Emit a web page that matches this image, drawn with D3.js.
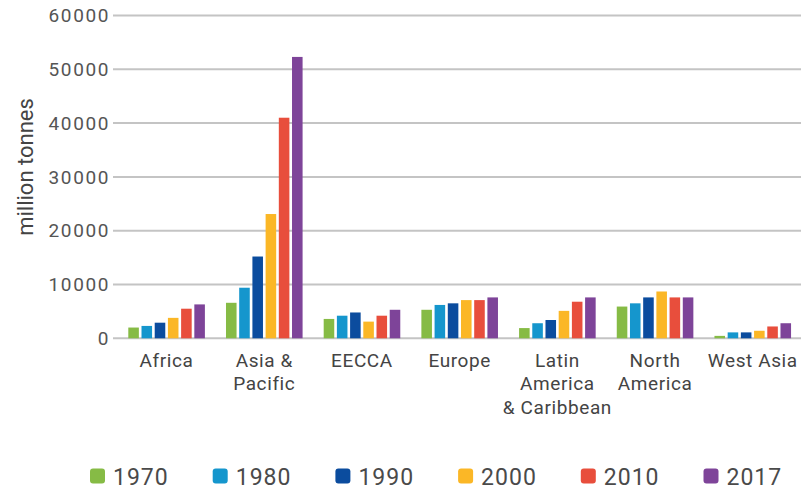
<!DOCTYPE html>
<html>
<head>
<meta charset="utf-8">
<script src="https://cdn.jsdelivr.net/npm/d3@7"></script>
<style>
  html, body { margin: 0; padding: 0; background: #ffffff; }
  svg { display: block; font-family: Roboto, "Noto Sans", sans-serif; }
</style>
</head>
<body>
<svg id="chart" width="807" height="492"></svg>
<script>
const categories = ["Africa", "Asia & Pacific", "EECCA", "Europe", "Latin America & Caribbean", "North America", "West Asia"];
const categoryLines = [["Africa"], ["Asia &", "Pacific"], ["EECCA"], ["Europe"], ["Latin", "America", "& Caribbean"], ["North", "America"], ["West Asia"]];
const years = ["1970", "1980", "1990", "2000", "2010", "2017"];
const colors = ["#86bb45", "#1596cd", "#0b4c9e", "#fbb726", "#e84e3c", "#7e4499"];

const v1970 = [2000, 6600, 3600, 5300, 1900, 5900, 450];
const v1980 = [2300, 9400, 4200, 6200, 2800, 6500, 1100];
const v1990 = [2900, 15200, 4800, 6500, 3400, 7600, 1100];
const v2000 = [3800, 23100, 3100, 7100, 5100, 8700, 1400];
const v2010 = [5500, 41000, 4200, 7100, 6800, 7600, 2200];
const v2017 = [6300, 52300, 5300, 7600, 7600, 7600, 2800];
const seriesValues = [v1970, v1980, v1990, v2000, v2010, v2017];

const yTicks = [0, 10000, 20000, 30000, 40000, 50000, 60000];
const yTitle = "million tonnes";

const svg = d3.select("#chart");

const x0 = d3.scaleBand().domain(categories).range([117.75, 801.6]).paddingInner(0.216).paddingOuter(0.108);
const x1 = d3.scaleBand().domain(years).range([0, x0.bandwidth()]).paddingInner(0.2).paddingOuter(0);
const y = d3.scaleLinear().domain([0, 60000]).range([338.3, 15.5]);

// gridlines
svg.append("g").selectAll("line").data(yTicks).join("line")
  .attr("x1", 113).attr("x2", 801)
  .attr("y1", d => y(d)).attr("y2", d => y(d))
  .attr("stroke", "#c4c4c4").attr("stroke-width", 2);

// y tick labels
svg.append("g").selectAll("text").data(yTicks).join("text")
  .attr("x", 110).attr("y", d => y(d)).attr("dy", "0.35em")
  .attr("text-anchor", "end")
  .attr("font-size", 19).attr("letter-spacing", 1.6)
  .attr("fill", "#555")
  .text(d => String(d));

// y title
svg.append("text")
  .attr("transform", "translate(33,167) rotate(-90)")
  .attr("text-anchor", "middle")
  .attr("font-size", 22).attr("fill", "#444")
  .text(yTitle);

// bars
const groups = svg.append("g").selectAll("g").data(categories).join("g")
  .attr("transform", d => `translate(${x0(d)},0)`);
groups.selectAll("rect")
  .data((c, i) => years.map((yr, j) => ({ yr, j, v: seriesValues[j][i] })))
  .join("rect")
  .attr("x", d => x1(d.yr))
  .attr("width", x1.bandwidth())
  .attr("y", d => y(d.v))
  .attr("height", d => y(0) - y(d.v))
  .attr("fill", d => colors[d.j]);

// x labels
const xl = svg.append("g").selectAll("text").data(categories).join("text")
  .attr("x", d => x0(d) + x0.bandwidth() / 2)
  .attr("y", 366.5)
  .attr("text-anchor", "middle")
  .attr("font-size", 19).attr("letter-spacing", 0.6)
  .attr("fill", "#444");
xl.each(function(d, i) {
  const t = d3.select(this);
  categoryLines[i].forEach((ln, k) => {
    t.append("tspan").attr("x", x0(d) + x0.bandwidth() / 2)
      .attr("y", 366.5 + k * 23.5).text(ln);
  });
});

// legend
const leg = svg.append("g").selectAll("g").data(years).join("g")
  .attr("transform", (d, i) => `translate(${113 + i * 122.7},0)`);
leg.append("rect").attr("x", -23).attr("y", 468.5).attr("width", 15).attr("height", 15)
  .attr("rx", 3).attr("fill", (d, i) => colors[i]);
leg.append("text").attr("x", 0).attr("y", 485)
  .attr("font-size", 23).attr("letter-spacing", 1).attr("fill", "#4a4a4a")
  .text(d => d);
</script>
</body>
</html>
